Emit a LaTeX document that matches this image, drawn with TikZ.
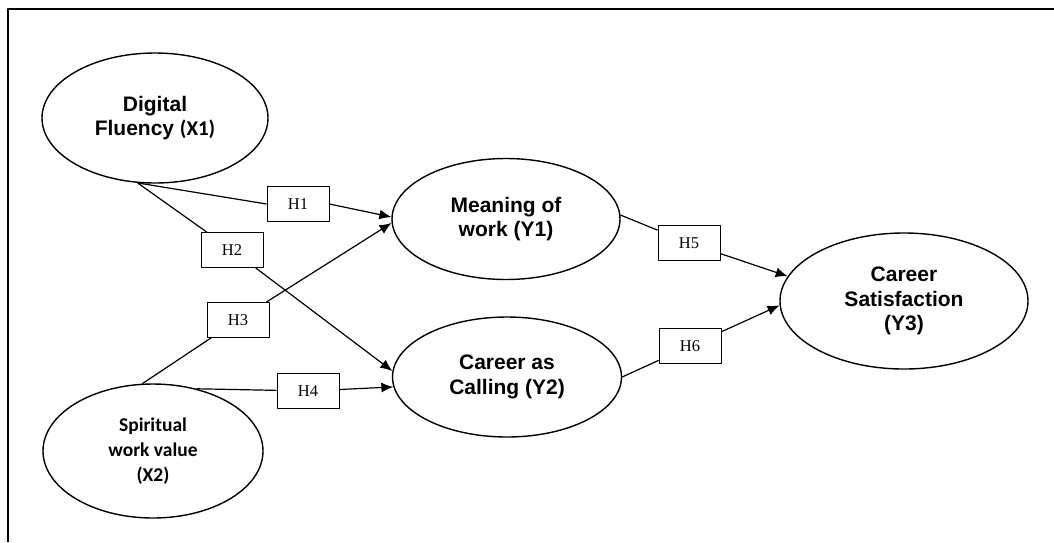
\documentclass[tikz,border=0pt]{standalone}
\usepackage{fontspec}
\setmainfont{Liberation Serif}
\newfontfamily\arialfont{Liberation Sans}
\newfontfamily\calfont{Carlito}
\usetikzlibrary{shapes.geometric,arrows.meta}
\begin{document}
\begin{tikzpicture}[x=1pt, y=-1pt, line join=round, >={Latex[length=12pt,width=10pt]},
		latent/.style={draw, ellipse, line width=1.4pt, inner sep=0pt, align=center,
			font=\arialfont\bfseries\fontsize{21}{24.5}\selectfont},
		hyp/.style={draw, line width=0.8pt, minimum width=62pt, minimum height=35pt,
			inner sep=0pt, font=\fontsize{16.5}{18}\selectfont},
		path/.style={line width=1.2pt}
		]
		\useasboundingbox (0,0) rectangle (1054,542);
		% frame (only top and left edges show)
		\draw[line width=2pt] (1054,9) -- (8,9) -- (8,542);
		% constructs
		\node[latent, minimum width=226pt, minimum height=130pt] (dig) at (155,118) {Digital\\Fluency {\calfont(X1)}};
		\node[latent, minimum width=220pt, minimum height=134pt, font=\calfont\bfseries\fontsize{19.5}{25}\selectfont] (spir) at (153,451) {Spiritual\\work value\\(X2)};
		\node[latent, minimum width=228pt, minimum height=121pt] (mean) at (506,219) {Meaning of\\work (Y1)};
		\node[latent, minimum width=229pt, minimum height=120pt] (call) at (507,377) {Career as\\Calling (Y2)};
		\node[latent, minimum width=248pt, minimum height=136pt] (sat) at (904,301) {Career\\Satisfaction\\(Y3)};
		% hypotheses
		\node[hyp] (h1) at (298,204) {H1};
		\node[hyp] (h2) at (232,250) {H2};
		\node[hyp] (h3) at (238,320) {H3};
		\node[hyp] (h4) at (308,391) {H4};
		\node[hyp] (h5) at (689,243) {H5};
		\node[hyp] (h6) at (690,346) {H6};
		% paths
		\draw[path] (dig.255) -- (h1.west);
		\draw[path,->] (h1.east) -- (mean.179);
		\draw[path] (dig.255) -- (h2);
		\draw[path,->] (h2) -- (call.177);
		\draw[path] (spir.99) -- (h3);
		\draw[path,->] (h3) -- (mean.182);
		\draw[path] (spir.55) -- (h4);
		\draw[path,->] (h4) -- (call.185);
		\draw[path] (mean.2) -- (h5);
		\draw[path,->] (h5) -- (sat.168);
		\draw[path] (call.0) -- (h6);
		\draw[path,->] (h6) -- (sat.182);
\end{tikzpicture}
\end{document}
